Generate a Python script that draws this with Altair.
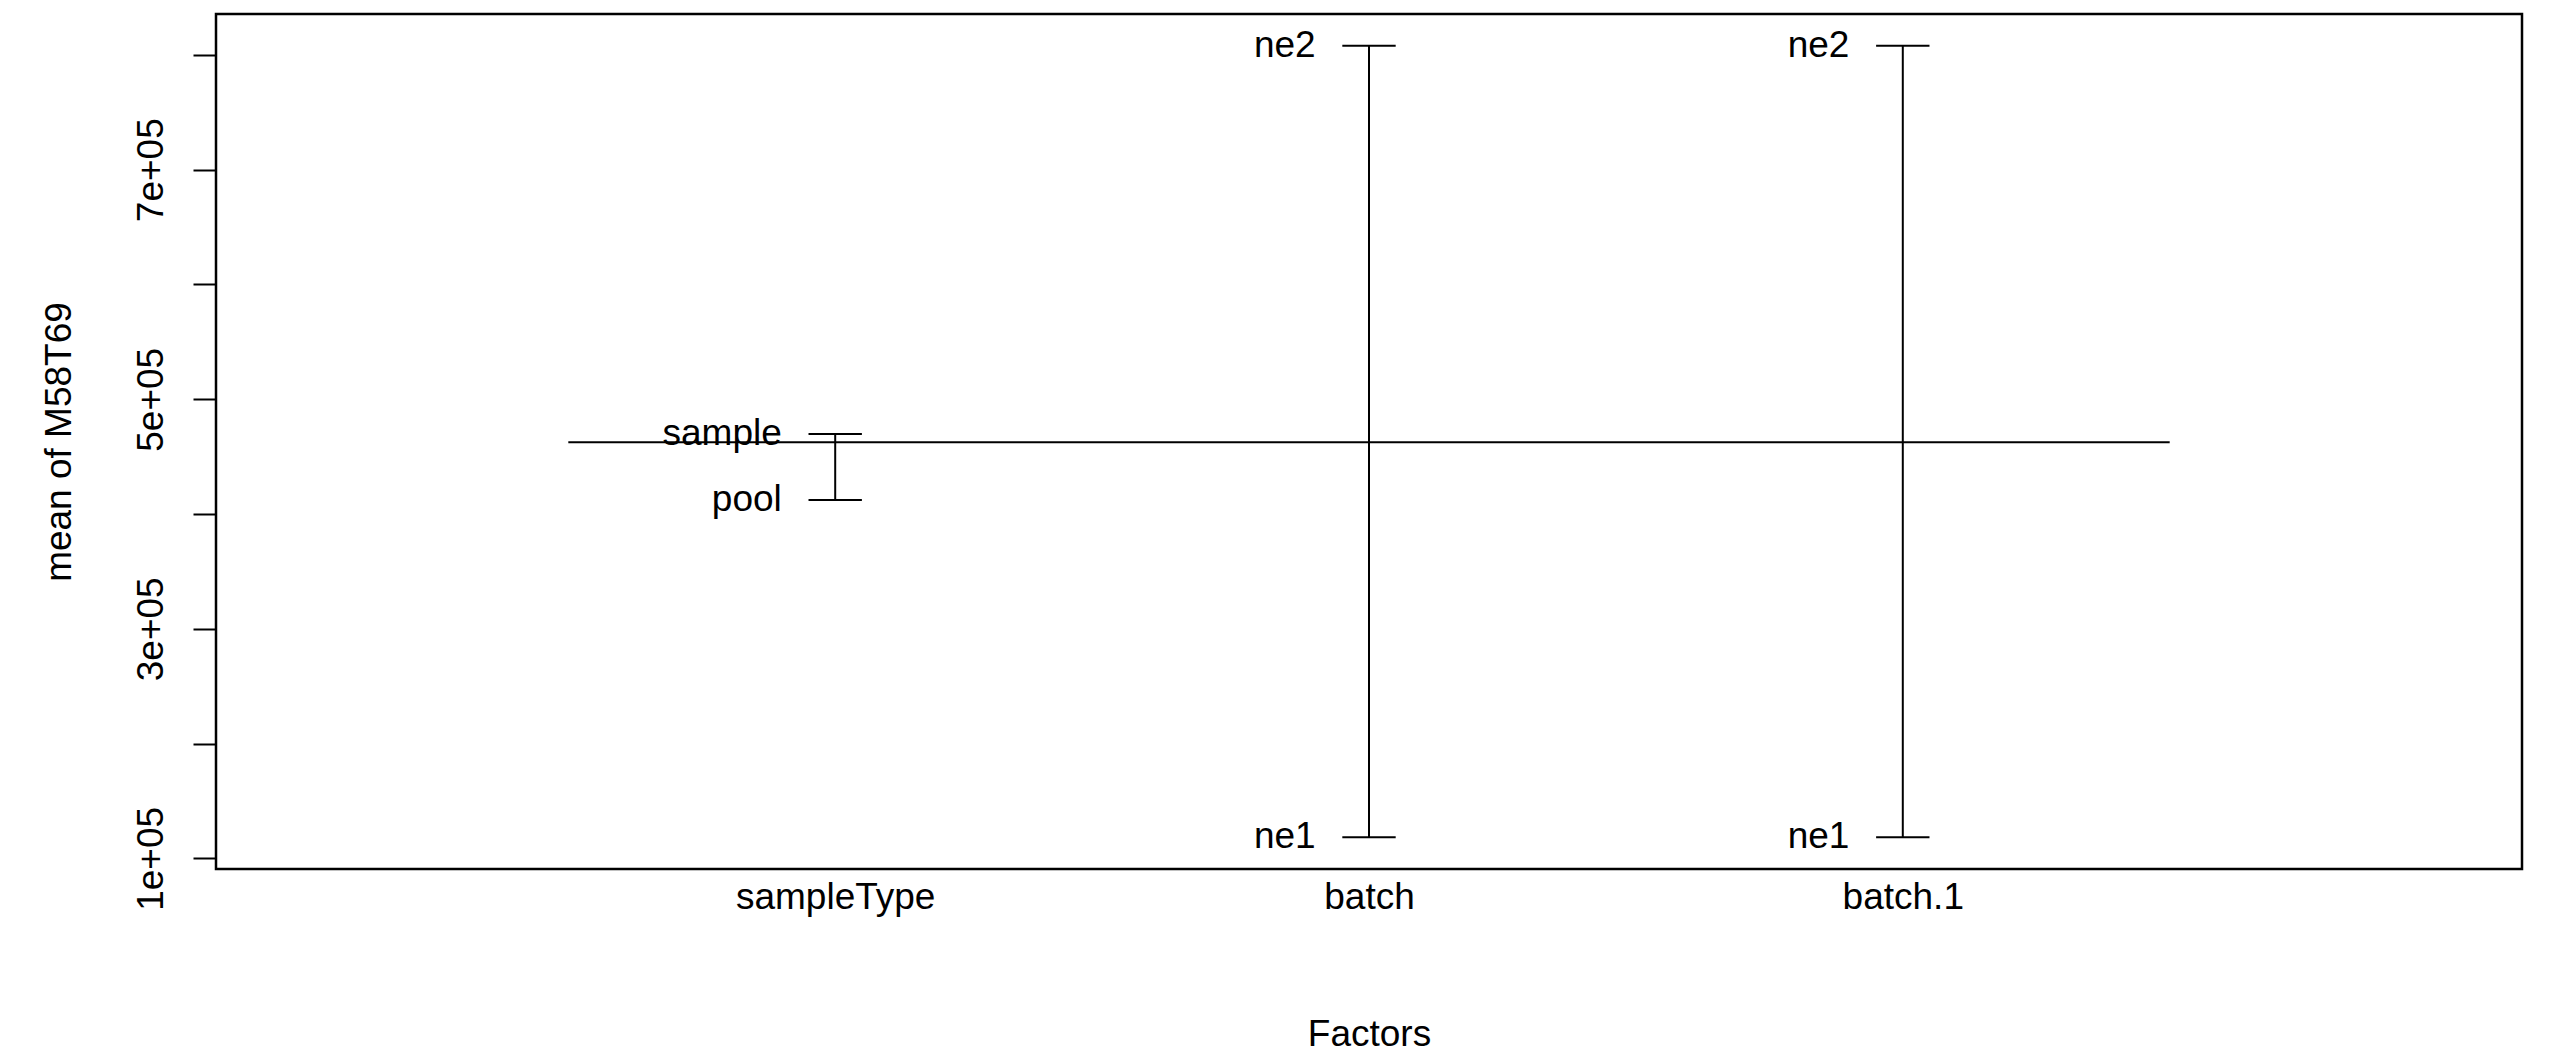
import json
import altair as alt
import pandas as pd

# ---- data ----
factors = ["sampleType", "batch", "batch.1"]
level_names = [["pool", "sample"], ["ne1", "ne2"], ["ne1", "ne2"]]
level_means = [[412200, 469800], [118300, 808100], [118300, 808100]]
grand_mean = 462600
y_title = "mean of M58T69"
x_title = "Factors"
y_tick_values = [100000, 200000, 300000, 400000, 500000, 600000, 700000, 800000]

FONT = "Liberation Sans"
FS = 37
W, H = 2306, 855
CAP = 0.05
LAB = 0.1

nf = len(factors)
stems, caps = [], []
for i, (f, names, vals) in enumerate(zip(factors, level_names, level_means)):
    xi = i + 1
    stems.append({"x": xi, "lo": min(vals), "hi": max(vals)})
    for n, v in zip(names, vals):
        caps.append({"xa": xi - CAP, "xb": xi + CAP, "xt": xi - LAB, "y": v, "name": n})
stems_df = pd.DataFrame(stems)
caps_df = pd.DataFrame(caps)
grand_df = pd.DataFrame([{"xa": 0.5, "xb": nf + 0.5, "y": grand_mean}])

all_vals = [v for vals in level_means for v in vals]
ymin, ymax = min(all_vals), max(all_vals)
r = ymax - ymin
ydom = [ymin - 0.04 * r, ymax + 0.04 * r]
xdom = [0 - 0.04 * (nf + 1), (nf + 1) + 0.04 * (nf + 1)]

xscale = alt.Scale(domain=xdom, nice=False, zero=False)
yscale = alt.Scale(domain=ydom, nice=False, zero=False)

xaxis = alt.Axis(
    values=list(range(1, nf + 1)),
    labelExpr=json.dumps(factors) + "[datum.value - 1]",
    ticks=False, domain=False, grid=False,
    labelFont=FONT, labelFontSize=FS, labelColor="black",
    labelPadding=10, labelBaseline="top", labelAngle=0, labelLimit=0,
    labelFlush=False, labelOverlap=False,
    title=x_title, titleFont=FONT, titleFontSize=FS, titleFontWeight="normal",
    titleColor="black", titleX=W / 2, titleY=176, titleAlign="center",
    titleBaseline="alphabetic",
)
yaxis = alt.Axis(
    values=y_tick_values,
    labelExpr="(datum.value / 100000) % 2 == 1 ? format(datum.value / 100000, 'd') + 'e+05' : ''",
    tickSize=23, tickWidth=2, tickColor="black", domain=False, grid=False,
    labelFont=FONT, labelFontSize=FS, labelColor="black",
    labelAngle=270, labelAlign="center", labelBaseline="alphabetic",
    labelPadding=31, labelFlush=False, labelOverlap=False, labelLimit=0,
    title=y_title, titleFont=FONT, titleFontSize=FS, titleFontWeight="normal",
    titleColor="black", titleAngle=270, titleX=-146, titleY=H / 2,
    titleAlign="center", titleBaseline="alphabetic",
)

base_x = alt.X("x:Q", scale=xscale, axis=xaxis)

stem_layer = alt.Chart(stems_df).mark_rule(color="black", strokeWidth=2).encode(
    x=base_x,
    y=alt.Y("lo:Q", scale=yscale, axis=yaxis),
    y2="hi:Q",
)
cap_layer = alt.Chart(caps_df).mark_rule(color="black", strokeWidth=2).encode(
    x=alt.X("xa:Q", scale=xscale),
    x2="xb:Q",
    y=alt.Y("y:Q", scale=yscale),
)
grand_layer = alt.Chart(grand_df).mark_rule(color="black", strokeWidth=2).encode(
    x=alt.X("xa:Q", scale=xscale),
    x2="xb:Q",
    y=alt.Y("y:Q", scale=yscale),
)
text_layer = alt.Chart(caps_df).mark_text(
    align="right", baseline="middle", font=FONT, fontSize=FS, color="black"
).encode(
    x=alt.X("xt:Q", scale=xscale),
    y=alt.Y("y:Q", scale=yscale),
    text="name:N",
)

chart = alt.layer(stem_layer, grand_layer, cap_layer, text_layer).properties(
    width=W, height=H,
    autosize=alt.AutoSizeParams(type="none"),
    padding={"left": 208, "top": 6, "right": 20, "bottom": 185},
    background="white",
).configure_view(stroke="black", strokeWidth=2.5)

chart.save("out.html", embed_options={"renderer": "svg", "actions": False})
